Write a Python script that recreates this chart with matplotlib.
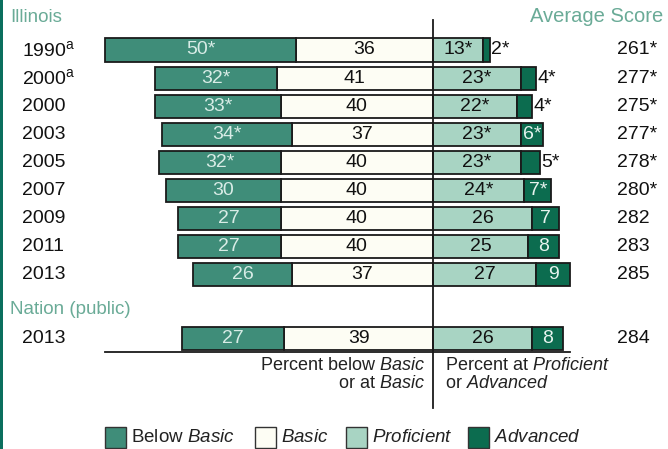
import matplotlib
matplotlib.use('Agg')
import matplotlib.pyplot as plt
from matplotlib.patches import Rectangle
import numpy as np

plt.rcParams['font.family'] = ['Liberation Sans', 'DejaVu Sans']
plt.rcParams['mathtext.fontset'] = 'custom'
plt.rcParams['mathtext.rm'] = 'Liberation Sans'
plt.rcParams['mathtext.it'] = 'Liberation Sans:italic'

# data
years = [r'1990$^{\mathrm{a}}$', r'2000$^{\mathrm{a}}$', '2000', '2003', '2005', '2007',
         '2009', '2011', '2013', '2013']
below_basic = [50, 32, 33, 34, 32, 30, 27, 27, 26, 27]
basic = [36, 41, 40, 37, 40, 40, 40, 40, 37, 39]
proficient = [13, 23, 22, 23, 23, 24, 26, 25, 27, 26]
advanced = [2, 4, 4, 6, 5, 7, 7, 8, 9, 8]
below_lbl = ['50*', '32*', '33*', '34*', '32*', '30', '27', '27', '26', '27']
basic_lbl = ['36', '41', '40', '37', '40', '40', '40', '40', '37', '39']
prof_lbl = ['13*', '23*', '22*', '23*', '23*', '24*', '26', '25', '27', '26']
adv_lbl = ['2*', '4*', '4*', '6*', '5*', '7*', '7', '8', '9', '8']
avg_score = ['261*', '277*', '275*', '277*', '278*', '280*', '282', '283', '285', '284']

c_below = '#3f8d79'
c_basic = '#fdfdf4'
c_prof = '#a8d4c3'
c_adv = '#0c6c4f'
c_head = '#6aab97'

W, H = 668, 449
fig = plt.figure(figsize=(W / 100, H / 100), dpi=100)
ax = fig.add_axes([0, 0, 1, 1])

# pixel layout: center line at x=433, 3.81 px per percent, rows 28 px apart from y=50
cx, ppu = 433, 3.81
y0, dy = 50, 28.06
ax.set_xlim(-cx / ppu, (W - cx) / ppu)
ax.set_ylim((H - y0) / dy, -y0 / dy)
ax.axis('off')

ypos = np.array([0, 1, 2, 3, 4, 5, 6, 7, 8, 10.28])
bh = 0.82
below_basic = np.array(below_basic)
basic = np.array(basic)
proficient = np.array(proficient)
advanced = np.array(advanced)

kw = dict(height=bh, edgecolor='#1a1a1a', linewidth=1.3)
ax.barh(ypos, -basic, left=0, color=c_basic, **kw)
ax.barh(ypos, -below_basic, left=-basic, color=c_below, **kw)
ax.barh(ypos, proficient, left=0, color=c_prof, **kw)
ax.barh(ypos, advanced, left=proficient, color=c_adv, **kw)

fs = 14
for i, y in enumerate(ypos):
    ax.text(-basic[i] - below_basic[i] / 2, y, below_lbl[i], color='#d8ece6',
            ha='center', va='center', fontsize=fs)
    ax.text(-basic[i] / 2, y, basic_lbl[i], color='#111111',
            ha='center', va='center', fontsize=fs)
    ax.text(proficient[i] / 2, y, prof_lbl[i], color='#111111',
            ha='center', va='center', fontsize=fs)
    if advanced[i] >= 6:
        ax.text(proficient[i] + advanced[i] / 2, y, adv_lbl[i], color='#e6f3ee',
                ha='center', va='center', fontsize=fs)
    else:
        ax.text(proficient[i] + advanced[i] + 0.3, y, adv_lbl[i], color='#111111',
                ha='left', va='center', fontsize=fs)
    fig.text(22 / W, 1 - (y0 + y * dy) / H, years[i], ha='left', va='center',
             fontsize=fs, color='#111111')
    fig.text(617 / W, 1 - (y0 + y * dy) / H, avg_score[i], ha='left', va='center',
             fontsize=fs, color='#111111')

# center line and baseline
ax.plot([0, 0], [(20 - y0) / dy, (408 - y0) / dy], color='#1a1a1a', lw=1.3)
ax.plot([(105 - cx) / ppu, (570 - cx) / ppu], [(352 - y0) / dy] * 2, color='#1a1a1a', lw=1.3)

# headers
fig.text(10 / W, 1 - 17 / H, 'Illinois', color=c_head, fontsize=13.5, va='center')
fig.text(663 / W, 1 - 17 / H, 'Average Score', color=c_head, fontsize=14.5,
         va='center', ha='right')
fig.text(10 / W, 1 - 310 / H, 'Nation (public)', color=c_head, fontsize=13.5, va='center')

# axis captions
cap = dict(fontsize=13, color='#222222', va='center')
fig.text(425 / W, 1 - 366 / H, r'Percent below $\mathit{Basic}$', ha='right', **cap)
fig.text(425 / W, 1 - 383 / H, r'or at $\mathit{Basic}$', ha='right', **cap)
fig.text(445 / W, 1 - 366 / H, r'Percent at $\mathit{Proficient}$', ha='left', **cap)
fig.text(445 / W, 1 - 383 / H, r'or $\mathit{Advanced}$', ha='left', **cap)

# legend
leg_items = [(105, c_below, r'Below $\mathit{Basic}$'),
             (255, c_basic, r'$\mathit{Basic}$'),
             (346, c_prof, r'$\mathit{Proficient}$'),
             (468, c_adv, r'$\mathit{Advanced}$')]
for lx, col, lab in leg_items:
    fig.patches.append(Rectangle((lx / W, 1 - 448 / H), 21 / W, 21 / H,
                                 transform=fig.transFigure, facecolor=col,
                                 edgecolor='#333333', linewidth=1.0))
    fig.text((lx + 26) / W, 1 - 438 / H, lab, ha='left', va='center',
             fontsize=13.5, color='#222222')

# left border strip
fig.patches.append(Rectangle((0, 0), 3 / W, 1, transform=fig.transFigure,
                             facecolor='#0b6f5e', edgecolor='none'))

fig.savefig('out.png', dpi=100)
